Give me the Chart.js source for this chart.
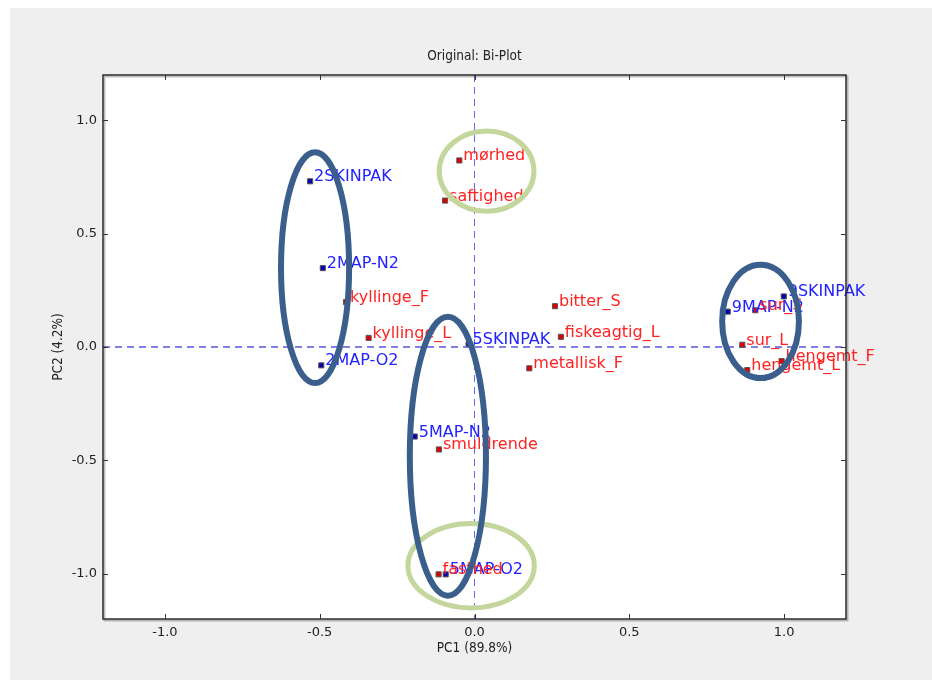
<!DOCTYPE html>
<html>
<head>
<meta charset="utf-8">
<script src="https://cdn.jsdelivr.net/npm/chart.js@4.4.1/dist/chart.umd.min.js"></script>
<style>
  html, body { margin: 0; padding: 0; background: #ffffff; }
  #wrap { position: absolute; left: 10px; top: 8px; width: 922px; height: 672px; background: #efefef; }
  canvas { display: block; }
</style>
</head>
<body>
<div id="wrap"><canvas id="biplot" width="922" height="672"></canvas></div>
<script>
/* ---------- Data ---------- */
const sampleNames = ["2SKINPAK", "2MAP-N2", "2MAP-O2", "5SKINPAK", "5MAP-N2", "5MAP-O2", "9MAP-N2", "9SKINPAK"];
const sampleX = [-0.531, -0.490, -0.495, -0.019, -0.193, -0.093, 0.818, 0.999];
const sampleY = [0.731, 0.348, -0.081, 0.013, -0.395, -1.003, 0.156, 0.223];

const attrNames = ["mørhed", "saftighed", "kyllinge_F", "kyllinge_L", "bitter_S", "fiskeagtig_L", "metallisk_F",
                   "smuldrende", "fasthed", "sur_S", "sur_L", "hengemt_L", "hengemt_F"];
const attrX = [-0.049, -0.095, -0.415, -0.342, 0.260, 0.279, 0.177, -0.115, -0.116, 0.907, 0.865, 0.881, 0.992];
const attrY = [0.823, 0.646, 0.198, 0.040, 0.180, 0.045, -0.094, -0.452, -1.003, 0.162, 0.010, -0.102, -0.062];

const tickValues = [-1.0, -0.5, 0.0, 0.5, 1.0];

// hand-drawn group rings: centre x, centre y, radius x, radius y (data units)
const blueRings = [
    [-0.515, 0.350, 0.110, 0.509],
    [-0.086, -0.482, 0.123, 0.615],
    [0.924, 0.113, 0.124, 0.250]
];
const greenRings = [
    [0.039, 0.776, 0.153, 0.177],
    [-0.011, -0.965, 0.204, 0.186]
];

const titleText = "Original: Bi-Plot";
const xTitle = "PC1 (89.8%)";
const yTitle = "PC2 (4.2%)";

/* ---------- Helpers ---------- */
const narrow = '"Liberation Sans Narrow", "DejaVu Sans Condensed", sans-serif';
const toPoints = (xs, ys) => xs.map((x, i) => ({ x: x, y: ys[i] }));

function fixTicks(scale) {
    scale.ticks = tickValues.map(v => ({ value: v }));
}

/* ---------- Plugin: frame, zero lines, labels, rings ---------- */
const biplotDecor = {
    id: "biplotDecor",
    beforeDraw(chart) {
        const { ctx, chartArea: a } = chart;
        ctx.save();
        ctx.fillStyle = "#ffffff";
        ctx.fillRect(a.left, a.top, a.right - a.left, a.bottom - a.top);
        ctx.restore();
    },
    beforeDatasetsDraw(chart) {
        const { ctx, chartArea: a, scales } = chart;
        const x0 = scales.x.getPixelForValue(0);
        const y0 = scales.y.getPixelForValue(0);
        ctx.save();
        ctx.lineWidth = 1;
        ctx.setLineDash([7, 5]);
        ctx.strokeStyle = "#6666ff";
        ctx.beginPath();
        ctx.moveTo(x0, a.top);
        ctx.lineTo(x0, a.bottom);
        ctx.stroke();
        ctx.strokeStyle = "#0000cc";
        ctx.beginPath();
        ctx.moveTo(a.left, y0);
        ctx.lineTo(a.right, y0);
        ctx.stroke();
        ctx.restore();
    },
    afterDatasetsDraw(chart) {
        const { ctx, scales } = chart;
        ctx.save();
        ctx.font = '16px "DejaVu Sans", sans-serif';
        ctx.textBaseline = "alphabetic";
        ctx.textAlign = "left";
        ctx.fillStyle = "#2222ff";
        sampleNames.forEach((n, i) => {
            ctx.fillText(n, scales.x.getPixelForValue(sampleX[i]) + 4, scales.y.getPixelForValue(sampleY[i]));
        });
        ctx.fillStyle = "#ff2222";
        attrNames.forEach((n, i) => {
            ctx.fillText(n, scales.x.getPixelForValue(attrX[i]) + 4, scales.y.getPixelForValue(attrY[i]));
        });

        const ring = (r, color, w) => {
            const cx = scales.x.getPixelForValue(r[0]);
            const cy = scales.y.getPixelForValue(r[1]);
            const rx = Math.abs(scales.x.getPixelForValue(r[0] + r[2]) - cx);
            const ry = Math.abs(scales.y.getPixelForValue(r[1] + r[3]) - cy);
            ctx.strokeStyle = color;
            ctx.lineWidth = w;
            ctx.beginPath();
            ctx.ellipse(cx, cy, rx, ry, 0, 0, Math.PI * 2);
            ctx.stroke();
        };
        greenRings.forEach(r => ring(r, "#c3d69b", 5));
        blueRings.forEach(r => ring(r, "#3b5f8c", 6));
        ctx.restore();
    },
    afterDraw(chart) {
        const { ctx, chartArea: a, scales } = chart;
        ctx.save();
        // frame shadow + frame
        ctx.strokeStyle = "rgba(0,0,0,0.25)";
        ctx.lineWidth = 2;
        ctx.strokeRect(a.left + 1.5, a.top + 1.5, a.right - a.left, a.bottom - a.top);
        ctx.strokeStyle = "#2b2b2b";
        ctx.lineWidth = 1.5;
        ctx.strokeRect(a.left, a.top, a.right - a.left, a.bottom - a.top);

        // inward ticks on all four sides
        ctx.lineWidth = 1;
        ctx.strokeStyle = "#333333";
        ctx.beginPath();
        tickValues.forEach(v => {
            const px = Math.round(scales.x.getPixelForValue(v)) + 0.5;
            const py = Math.round(scales.y.getPixelForValue(v)) + 0.5;
            ctx.moveTo(px, a.bottom); ctx.lineTo(px, a.bottom - 5);
            ctx.moveTo(px, a.top); ctx.lineTo(px, a.top + 5);
            ctx.moveTo(a.left, py); ctx.lineTo(a.left + 5, py);
            ctx.moveTo(a.right, py); ctx.lineTo(a.right - 5, py);
        });
        ctx.stroke();

        // titles
        ctx.fillStyle = "#222222";
        ctx.textAlign = "center";
        ctx.textBaseline = "middle";
        ctx.font = "13.5px " + narrow;
        const midX = (a.left + a.right) / 2;
        ctx.fillText(titleText, midX, a.top - 19);
        ctx.fillText(xTitle, midX, a.bottom + 29);
        ctx.translate(a.left - 45, (a.top + a.bottom) / 2);
        ctx.rotate(-Math.PI / 2);
        ctx.fillText(yTitle, 0, 0);
        ctx.restore();
    }
};

/* ---------- Chart ---------- */
const tickFont = { family: '"DejaVu Sans", sans-serif', size: 13 };

new Chart(document.getElementById("biplot"), {
    type: "scatter",
    data: {
        datasets: [
            {
                label: "Samples",
                data: toPoints(sampleX, sampleY),
                pointStyle: "rect",
                pointRadius: 3.6,
                backgroundColor: "#0000b0",
                borderColor: "#555555",
                borderWidth: 1
            },
            {
                label: "Attributes",
                data: toPoints(attrX, attrY),
                pointStyle: "rect",
                pointRadius: 3.6,
                backgroundColor: "#dd0000",
                borderColor: "#555555",
                borderWidth: 1
            }
        ]
    },
    options: {
        responsive: false,
        animation: false,
        events: [],
        layout: { padding: { top: 67, right: 86, left: 0, bottom: 0 } },
        plugins: { legend: { display: false }, tooltip: { enabled: false } },
        scales: {
            x: {
                type: "linear",
                min: -1.2,
                max: 1.2,
                afterBuildTicks: fixTicks,
                afterFit: s => { s.height = 61; },
                grid: { display: false, drawTicks: false },
                border: { display: false },
                ticks: { font: tickFont, color: "#222222", padding: 6, callback: v => v.toFixed(1) }
            },
            y: {
                type: "linear",
                min: -1.2,
                max: 1.2,
                afterBuildTicks: fixTicks,
                afterFit: s => { s.width = 93; },
                grid: { display: false, drawTicks: false },
                border: { display: false },
                ticks: { font: tickFont, color: "#222222", padding: 6, callback: v => v.toFixed(1) }
            }
        }
    },
    plugins: [biplotDecor]
});
</script>
</body>
</html>
